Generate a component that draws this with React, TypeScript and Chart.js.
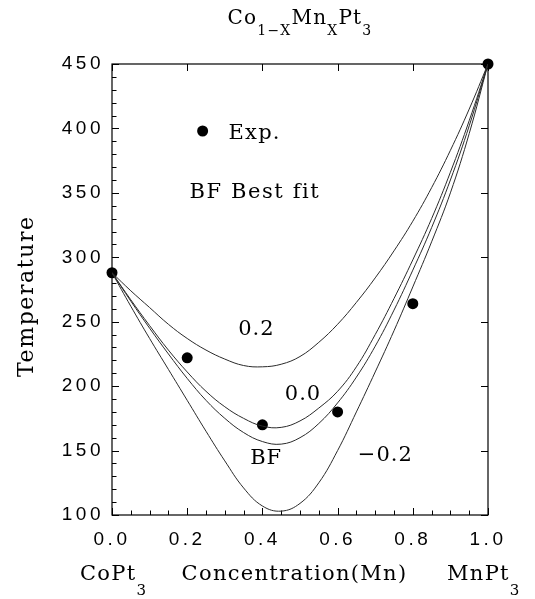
import { useEffect, useRef } from 'react';
import { Chart, registerables } from 'chart.js';

Chart.register(...registerables);

// Concentration grid (x) for the model curves
const xGrid = [0, 0.05, 0.1, 0.15, 0.2, 0.25, 0.3, 0.35, 0.4, 0.45, 0.5, 0.55, 0.6, 0.65, 0.7, 0.75, 0.8, 0.85, 0.9, 0.95, 1.0];
// Model curves (temperature) for parameter 0.2, 0.0, best fit, -0.2
const curveP02 = [288, 274, 261, 248, 237, 228, 221, 216, 215, 217, 223, 234, 248, 265, 284, 305, 328, 354, 383, 415, 450];
const curve00 = [288, 267, 247, 228, 211, 196, 184, 175, 169, 168, 173, 183, 196, 215, 240, 268, 298, 330, 366, 406, 450];
const curveBF = [288, 266, 245, 225, 206, 189, 175, 164, 157, 155, 160, 171, 187, 207, 231, 259, 290, 323, 360, 402, 450];
const curveM02 = [288, 262, 237, 213, 189, 165, 142, 121, 107, 103, 109, 125, 150, 180, 211, 243, 277, 312, 350, 396, 450];
// Experimental points
const expX = [0, 0.2, 0.4, 0.6, 0.8, 1.0];
const expY = [288, 222, 170, 180, 264, 450];
// Axis ticks
const xTickValues = [0, 0.2, 0.4, 0.6, 0.8, 1.0];
const yTickValues = [100, 150, 200, 250, 300, 350, 400, 450];

const SERIF = '"DejaVu Serif", serif';
const SANS = '"Liberation Sans", Arial, sans-serif';

type Seg = { t: string; sub?: boolean };

function drawRich(ctx: CanvasRenderingContext2D, segs: Seg[], x: number, baseline: number, align: 'left' | 'center', mainFont: string, subFont: string, subDrop: number, spacing: number) {
  ctx.save();
  (ctx as any).letterSpacing = spacing + 'px';
  ctx.textAlign = 'left';
  ctx.textBaseline = 'alphabetic';
  ctx.fillStyle = '#000';
  let total = 0;
  const widths = segs.map((s) => {
    ctx.font = s.sub ? subFont : mainFont;
    const w = ctx.measureText(s.t).width;
    total += w;
    return w;
  });
  let cx = align === 'center' ? x - total / 2 : x;
  segs.forEach((s, i) => {
    ctx.font = s.sub ? subFont : mainFont;
    ctx.fillText(s.t, cx, baseline + (s.sub ? subDrop : 0));
    cx += widths[i];
  });
  ctx.restore();
}

const decorPlugin = {
  id: 'decor',
  beforeDraw(chart: any) {
    (chart.ctx as any).letterSpacing = '3.5px';
  },
  beforeDatasetsDraw(chart: any) {
    const { ctx, chartArea: a, scales } = chart;
    const xs = scales.x;
    const ys = scales.y;
    ctx.save();
    (ctx as any).letterSpacing = '0px';
    ctx.strokeStyle = '#000';
    ctx.lineWidth = 1.2;
    ctx.strokeRect(a.left, a.top, a.right - a.left, a.bottom - a.top);
    ctx.lineWidth = 1;
    ctx.beginPath();
    // left (major + minor) and right (major) ticks
    for (let v = 100; v <= 450; v += 10) {
      const py = Math.round(ys.getPixelForValue(v)) + 0.5;
      const major = v % 50 === 0;
      const len = major ? 7 : 4.5;
      ctx.moveTo(a.left, py);
      ctx.lineTo(a.left + len, py);
      if (major) {
        ctx.moveTo(a.right, py);
        ctx.lineTo(a.right - 7, py);
      }
    }
    // bottom (major + minor) and top (major) ticks
    for (let i = 0; i <= 20; i++) {
      const v = i * 0.05;
      const px = Math.round(xs.getPixelForValue(v)) + 0.5;
      const major = i % 4 === 0;
      const len = major ? 7 : 4.5;
      ctx.moveTo(px, a.bottom);
      ctx.lineTo(px, a.bottom - len);
      if (major) {
        ctx.moveTo(px, a.top);
        ctx.lineTo(px, a.top + 7);
      }
    }
    ctx.stroke();
    ctx.restore();
  },
  afterDraw(chart: any) {
    const { ctx, chartArea: a, scales } = chart;
    const xs = scales.x;
    const ys = scales.y;
    const cxArea = (a.left + a.right) / 2;
    const main = `20px ${SERIF}`;
    const sub = `14px ${SERIF}`;
    // title
    drawRich(ctx, [{ t: 'Co' }, { t: '1\u2212X', sub: true }, { t: 'Mn' }, { t: 'X', sub: true }, { t: 'Pt' }, { t: '3', sub: true }], cxArea, 24, 'center', main, sub, 11, 1.2);
    // bottom labels
    const big = `21px ${SERIF}`;
    const bigSub = `15px ${SERIF}`;
    drawRich(ctx, [{ t: 'Concentration(Mn)' }], 294.5, 580, 'center', big, bigSub, 0, 1.3);
    drawRich(ctx, [{ t: 'CoPt' }, { t: '3', sub: true }], 80, 580, 'left', big, bigSub, 15, 1.3);
    drawRich(ctx, [{ t: 'MnPt' }, { t: '3', sub: true }], 447, 580, 'left', big, bigSub, 15, 1.3);
    // y label
    ctx.save();
    ctx.translate(33, 377);
    ctx.rotate(-Math.PI / 2);
    (ctx as any).letterSpacing = '1.6px';
    ctx.font = `22px ${SERIF}`;
    ctx.fillStyle = '#000';
    ctx.textAlign = 'left';
    ctx.textBaseline = 'alphabetic';
    ctx.fillText('Temperature', 0, 0);
    ctx.restore();
    // curve labels
    const curveLabels = [
      { t: '0.2', x: 0.384, y: 243.6 },
      { t: '0.0', x: 0.508, y: 193.8 },
      { t: 'BF', x: 0.41, y: 144 },
      { t: '\u22120.2', x: 0.727, y: 146 },
    ];
    ctx.save();
    (ctx as any).letterSpacing = '1px';
    ctx.font = `21px ${SERIF}`;
    ctx.fillStyle = '#000';
    ctx.textAlign = 'center';
    ctx.textBaseline = 'middle';
    curveLabels.forEach((l) => ctx.fillText(l.t, xs.getPixelForValue(l.x), ys.getPixelForValue(l.y)));
    ctx.restore();
    // legend
    ctx.save();
    ctx.fillStyle = '#000';
    ctx.beginPath();
    ctx.arc(xs.getPixelForValue(0.241), ys.getPixelForValue(398), 5.5, 0, Math.PI * 2);
    ctx.fill();
    ctx.restore();
    drawRich(ctx, [{ t: 'Exp.' }], xs.getPixelForValue(0.31), ys.getPixelForValue(398) + 7.5, 'left', `21px ${SERIF}`, sub, 0, 1.2);
    drawRich(ctx, [{ t: 'BF Best fit' }], xs.getPixelForValue(0.206), ys.getPixelForValue(346.2), 'left', `21px ${SERIF}`, sub, 0, 1.6);
  },
};

function curve(vals: number[]) {
  return xGrid.map((x, i) => ({ x, y: vals[i] }));
}

export default function App() {
  const ref = useRef<HTMLCanvasElement | null>(null);
  useEffect(() => {
    if (!ref.current) return;
    const lineStyle = {
      showLine: true,
      borderColor: '#2a2a2a',
      borderWidth: 1,
      pointRadius: 0,
      fill: false,
      tension: 0.4,
    };
    const chart = new Chart(ref.current, {
      type: 'scatter',
      data: {
        datasets: [
          { label: '0.2', data: curve(curveP02), ...lineStyle },
          { label: '0.0', data: curve(curve00), ...lineStyle },
          { label: 'BF', data: curve(curveBF), ...lineStyle },
          { label: '-0.2', data: curve(curveM02), ...lineStyle },
          {
            label: 'Exp.',
            data: expX.map((x, i) => ({ x, y: expY[i] })),
            showLine: false,
            pointRadius: 5.5,
            pointBackgroundColor: '#000',
            pointBorderColor: '#000',
            pointBorderWidth: 0,
            clip: false as any,
          },
        ],
      },
      options: {
        animation: false,
        responsive: false,
        devicePixelRatio: 1,
        layout: { padding: { top: 64, right: 47, left: 0, bottom: 0 } },
        plugins: { legend: { display: false }, tooltip: { enabled: false }, title: { display: false } },
        scales: {
          x: {
            type: 'linear',
            min: 0,
            max: 1,
            grid: { display: false, drawTicks: false },
            border: { display: false },
            afterFit: (s: any) => { s.height = 84; },
            afterBuildTicks: (s: any) => { s.ticks = xTickValues.map((v) => ({ value: v })); },
            ticks: {
              autoSkip: false,
              maxRotation: 0,
              padding: 13,
              color: '#000',
              font: { family: SANS, size: 19 },
              callback: (v: any) => Number(v).toFixed(1),
            },
          },
          y: {
            type: 'linear',
            min: 100,
            max: 450,
            grid: { display: false, drawTicks: false },
            border: { display: false },
            afterFit: (s: any) => { s.width = 112; },
            afterBuildTicks: (s: any) => { s.ticks = yTickValues.map((v) => ({ value: v })); },
            ticks: {
              autoSkip: false,
              padding: 8,
              color: '#000',
              font: { family: SANS, size: 19 },
              callback: (v: any) => String(v),
            },
          },
        },
      },
      plugins: [decorPlugin],
    });
    return () => chart.destroy();
  }, []);
  return (
    <div style={{ position: 'absolute', left: 0, top: 0, width: 535, height: 599, background: '#fff' }}>
      <canvas ref={ref} width={535} height={599} style={{ width: 535, height: 599, display: 'block' }} />
    </div>
  );
}
